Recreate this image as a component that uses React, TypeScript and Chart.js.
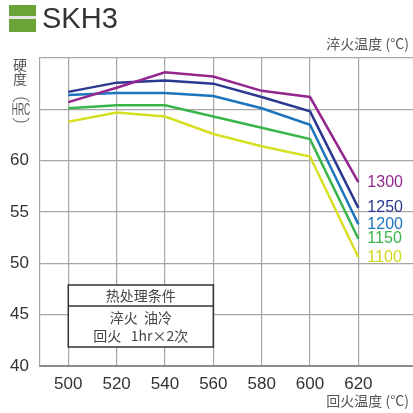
import React, { useEffect, useRef } from "react";
import { Chart, registerables } from "chart.js";

Chart.register(...registerables);

const tempering = [500, 520, 540, 560, 580, 600, 620];
const yTicks = [40, 45, 50, 55, 60];
const series1300 = [65.7, 67.1, 68.6, 68.2, 66.8, 66.2, 57.9];
const series1250 = [66.7, 67.6, 67.8, 67.5, 66.2, 64.8, 55.4];
const series1200 = [66.4, 66.6, 66.6, 66.3, 65.1, 63.5, 53.8];
const series1150 = [65.1, 65.4, 65.4, 64.3, 63.2, 62.1, 52.4];
const series1100 = [63.8, 64.7, 64.3, 62.6, 61.4, 60.4, 50.6];
const seriesNames = ["1300", "1250", "1200", "1150", "1100"];
const seriesColors = ["#93278f", "#2b3990", "#1c75bc", "#39b54a", "#d7df23"];
const labelColors = ["#93278f", "#2b3990", "#1c75bc", "#39b54a", "#d4d81e"];
const allSeries = [series1300, series1250, series1200, series1150, series1100];

const title = "SKH3";
const topAxisTitle = "淬火温度 (°C)";
const bottomAxisTitle = "回火温度 (°C)";
const yTitleChars = ["硬", "度"];
const tableHeader = "热处理条件";
const tableLines = ["淬火  油冷", "回火   1hr×2次"];

const NUM_FONT = '"Liberation Sans", Arial, sans-serif';
const CJK_FONT = '"Noto Sans CJK SC", "Noto Sans", sans-serif';

const overlay = {
  id: "overlay",
  beforeDraw(chart: any) {
    const ctx = chart.ctx;
    ctx.save();
    ctx.fillStyle = "#ffffff";
    ctx.fillRect(0, 0, chart.width, chart.height);
    ctx.restore();
  },
  afterDraw(chart: any) {
    const ctx = chart.ctx;
    const xs = chart.scales.x;
    const ys = chart.scales.y;
    ctx.save();
    // title icon
    ctx.fillStyle = "#6aa338";
    ctx.fillRect(9, 5, 27, 27);
    ctx.fillStyle = "#e6e6e6";
    ctx.fillRect(9, 16, 27, 3);
    ctx.fillStyle = "#333333";
    ctx.font = `29px ${NUM_FONT}`;
    ctx.textBaseline = "alphabetic";
    ctx.textAlign = "left";
    ctx.fillText(title, 42, 28);

    // axis titles
    ctx.fillStyle = "#555555";
    ctx.font = `14px ${CJK_FONT}`;
    ctx.textAlign = "right";
    ctx.textBaseline = "middle";
    ctx.fillText(topAxisTitle, 409, 44);
    ctx.fillText(bottomAxisTitle, 409, 401);

    // y title
    ctx.textAlign = "center";
    ctx.fillText(yTitleChars[0], 20, 65);
    ctx.fillText(yTitleChars[1], 20, 79);
    ctx.strokeStyle = "#555555";
    ctx.lineWidth = 1;
    ctx.beginPath();
    ctx.ellipse(21, 102, 8, 4, 0, Math.PI, 2 * Math.PI);
    ctx.stroke();
    ctx.beginPath();
    ctx.ellipse(21, 118, 8, 4, 0, 0, Math.PI);
    ctx.stroke();
    ctx.save();
    ctx.translate(21, 110);
    ctx.scale(0.5, 1);
    ctx.font = `17px ${NUM_FONT}`;
    ctx.fillText("HRC", 0, 0);
    ctx.restore();

    // tick labels
    ctx.fillStyle = "#333333";
    ctx.font = `17px ${NUM_FONT}`;
    ctx.textAlign = "right";
    ctx.textBaseline = "middle";
    yTicks.forEach((v) => {
      ctx.fillText(String(v), 29, ys.getPixelForValue(v));
    });
    ctx.textAlign = "center";
    tempering.forEach((v) => {
      ctx.fillText(String(v), xs.getPixelForValue(v), 384);
    });

    // series end labels
    ctx.font = `16px ${NUM_FONT}`;
    ctx.textAlign = "left";
    allSeries.forEach((s, i) => {
      const last = s.length - 1;
      ctx.fillStyle = labelColors[i];
      ctx.fillText(seriesNames[i], xs.getPixelForValue(tempering[last]) + 9, ys.getPixelForValue(s[last]));
    });

    // condition table
    const tx = xs.getPixelForValue(500);
    const tr = xs.getPixelForValue(560);
    const top = 285;
    const mid = 306;
    const bot = 347;
    ctx.fillStyle = "#ffffff";
    ctx.fillRect(tx, top, tr - tx, bot - top);
    ctx.strokeStyle = "#333333";
    ctx.lineWidth = 1.5;
    ctx.strokeRect(tx, top, tr - tx, bot - top);
    ctx.beginPath();
    ctx.moveTo(tx, mid);
    ctx.lineTo(tr, mid);
    ctx.stroke();
    ctx.fillStyle = "#444444";
    ctx.font = `14px ${CJK_FONT}`;
    ctx.textAlign = "center";
    ctx.textBaseline = "middle";
    const cx = (tx + tr) / 2;
    ctx.fillText(tableHeader, cx, 296);
    ctx.fillText(tableLines[0], cx, 318);
    ctx.fillText(tableLines[1], cx, 336);
    ctx.restore();
  },
};

export default function App() {
  const ref = useRef<HTMLCanvasElement>(null);
  useEffect(() => {
    if (!ref.current) return;
    const chart = new Chart(ref.current, {
      type: "line",
      data: {
        datasets: allSeries.map((s, i) => ({
          label: seriesNames[i],
          data: s.map((v, j) => ({ x: tempering[j], y: v })),
          borderColor: seriesColors[i],
          borderWidth: 2.5,
          pointRadius: 0,
          fill: false,
          tension: 0,
        })),
      },
      options: {
        animation: false,
        responsive: false,
        layout: { padding: { left: 40, top: 58, right: 0, bottom: 47 } },
        plugins: { legend: { display: false }, tooltip: { enabled: false }, title: { display: false } },
        scales: {
          x: {
            type: "linear",
            min: 488.3,
            max: 642.6,
            afterBuildTicks: (scale: any) => {
              scale.ticks = tempering.map((v) => ({ value: v }));
            },
            ticks: { display: false },
            grid: { color: "#a6a6a6", lineWidth: 1.2, drawTicks: false },
            border: { display: true, color: "#8c8c8c", width: 2 },
          },
          y: {
            type: "linear",
            min: 40,
            max: 70,
            ticks: { display: false, stepSize: 5 },
            grid: { color: "#a6a6a6", lineWidth: 1.2, drawTicks: false },
            border: { display: true, color: "#a6a6a6", width: 1.2 },
          },
        },
      },
      plugins: [overlay],
    });
    return () => chart.destroy();
  }, []);
  return (
    <canvas
      ref={ref}
      width={413}
      height={413}
      style={{ position: "absolute", left: 0, top: 0, width: 413, height: 413 }}
    />
  );
}
